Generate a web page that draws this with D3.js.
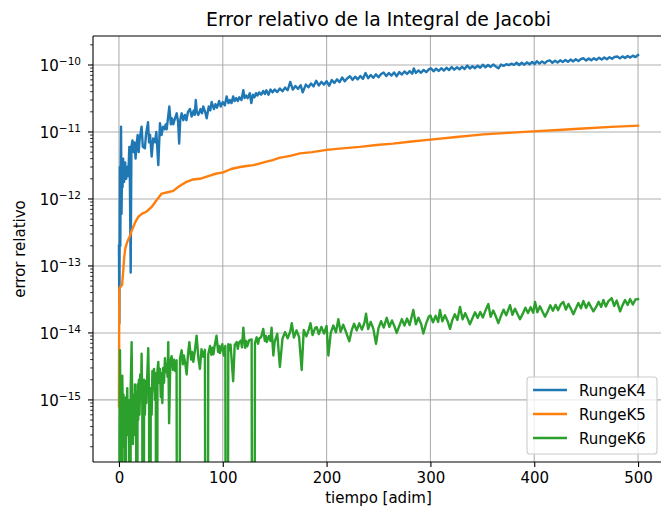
<!DOCTYPE html>
<html>
<head>
<meta charset="utf-8">
<script src="https://cdn.jsdelivr.net/npm/d3@7"></script>
<style>
body { margin: 0; background: #fff; }
text { font-family: "DejaVu Sans", sans-serif; fill: #000; }
</style>
</head>
<body>
<div id="chart"></div>
<script>
// [tiempo, error relativo]; 0 means the error dropped to zero
var rungeK4 = [
    [0, 2e-13], [0.4, 1.4e-14], [0.9, 3e-12], [1.3, 2e-13], [1.7, 4e-12], [2, 1.2e-11], [2.5, 6e-13], [3, 3e-12],
    [3.5, 1.5e-12], [4, 4e-12], [5, 1.8e-12], [6, 3.5e-12], [7, 2e-12], [8, 3e-12], [9, 2.2e-12],
    [10, 6e-12], [10.5, 2e-12], [11.3, 8e-14], [12, 6e-12], [13, 7.5e-12], [14, 5e-12], [15, 7e-12],
    [16, 4e-12], [17, 6.5e-12], [18, 9e-12], [19, 5e-12], [20, 8e-12], [21.8, 1.2e-11], [23, 6e-12],
    [25, 5.7e-12], [26, 9e-12], [28, 1.4e-11], [29, 7e-12], [30, 9e-12], [31.5, 4.3e-12], [33, 8e-12],
    [34.7, 7e-12], [36, 1.0e-11], [37.9, 3.2e-12], [39.5, 1.35e-11], [41, 9e-12], [42.5, 1.2e-11],
    [44, 1.1e-11], [45, 1.3e-11], [46, 1.1e-11], [47, 1.5e-11], [48.5, 2.4e-11], [50, 1.3e-11],
    [51, 1.6e-11], [52.3, 1.3e-11], [54, 1.6e-11], [55.6, 1.9e-11], [57, 1.4e-11], [58, 6.7e-12],
    [59, 1.5e-11], [60.4, 1.9e-11], [62, 1.5e-11], [63.5, 1.8e-11], [65, 1.5e-11], [66.5, 2.0e-11],
    [68.4, 2.2e-11], [70, 1.7e-11], [72, 2.1e-11], [73, 1.8e-11], [74, 3e-11], [75, 2.0e-11],
    [76.4, 1.8e-11], [78.5, 2.2e-11], [80, 1.9e-11], [81.2, 2.4e-11], [83, 2.0e-11], [84.5, 1.6e-11],
    [86.5, 2.4e-11], [88, 2.1e-11], [89.3, 2.8e-11], [91.5, 2.2e-11], [93, 2.6e-11], [94.5, 2.3e-11],
    [96.5, 2.9e-11], [98, 2.4e-11], [100, 2.8e-11], [102, 2.5e-11], [103.7, 3.4e-11], [105.5, 2.7e-11],
    [107, 3.0e-11], [108.5, 2.7e-11], [110, 3.4e-11], [111.5, 2.9e-11], [113, 3.2e-11], [114.5, 2.9e-11],
    [116, 3.3e-11], [118, 3.0e-11], [119.8, 4.2e-11], [121, 3.2e-11], [122.5, 3.5e-11], [124, 3.2e-11],
    [126, 3.8e-11], [127.5, 2.7e-11], [129, 3.6e-11], [130.5, 3.3e-11], [132, 3.8e-11], [133.5, 3.5e-11],
    [135, 3.9e-11], [137, 3.6e-11], [139, 4.1e-11], [140.5, 3.7e-11], [142, 4.2e-11], [144, 3.6e-11],
    [146, 4.3e-11], [148, 3.9e-11],
    [150, 4.3e-11], [152.5, 3.95e-11], [155, 4.45e-11], [157.5, 4.05e-11], [160, 4.6e-11], [162.5, 4.2e-11],
    [165, 5.6e-11], [167.5, 4.3e-11], [170, 4.85e-11], [172.5, 4.4e-11], [175, 5.0e-11], [177, 3.9e-11],
    [180, 5.1e-11], [182.5, 4.65e-11], [185, 5.3e-11], [187.5, 4.8e-11], [190, 5.8e-11], [192.5, 4.95e-11],
    [195, 5.6e-11], [197.5, 5.1e-11], [200, 5.75e-11], [202.5, 4.9e-11], [205, 5.95e-11], [207.5, 5.4e-11],
    [210, 6.1e-11], [212.5, 5.55e-11], [215, 6.5e-11], [217.5, 5.7e-11], [220, 6.35e-11], [222.5, 6.8e-11],
    [225, 6.0e-11], [227.5, 6.7e-11], [230, 6.1e-11], [232.5, 6.85e-11], [235, 6.2e-11], [237.5, 7.6e-11],
    [240, 6.35e-11], [242.5, 7.1e-11], [245, 6.45e-11], [247.5, 7.25e-11], [250, 6.55e-11], [252.5, 7.35e-11],
    [255, 7.7e-11], [257.5, 6.85e-11], [260, 7.6e-11], [262.5, 6.95e-11], [265, 7.75e-11], [267.5, 6.8e-11],
    [270, 7.85e-11], [272.5, 7.2e-11], [275, 8.0e-11], [277.5, 7.35e-11], [280, 8.1e-11], [282.5, 7.4e-11],
    [284, 8.9e-11], [286, 7.6e-11], [288.5, 8.3e-11], [291, 7.65e-11], [293.5, 8.45e-11], [296, 7.8e-11],
    [298.5, 8.6e-11], [300.5, 8.9e-11], [303, 8.05e-11], [305.5, 8.8e-11], [308, 8.15e-11], [310.5, 8.95e-11],
    [313, 8.25e-11], [315.5, 9.1e-11], [318, 8.4e-11], [320.5, 9.3e-11], [323, 8.5e-11], [325.5, 9.25e-11],
    [328, 8.6e-11], [330.5, 9.4e-11], [333, 8.7e-11], [335.5, 9.8e-11], [338, 8.85e-11], [340.5, 9.6e-11],
    [343, 8.95e-11], [345.5, 9.75e-11], [348, 9.1e-11], [350.5, 1.01e-10], [353, 9.25e-11], [355.5, 1.0e-10],
    [358, 9.35e-11], [360.5, 1.015e-10], [363, 9.5e-11], [365.5, 8.9e-11], [368, 1.015e-10], [370.5, 9.7e-11],
    [373, 1.03e-10], [375.5, 9.95e-11], [378, 1.045e-10], [380.5, 1.005e-10], [383, 1.08e-10], [385.5, 1.0e-10],
    [388, 1.08e-10], [390.5, 1.01e-10], [393, 1.095e-10], [395.5, 1.025e-10], [398, 1.11e-10], [400.5, 1.035e-10],
    [402.5, 1.14e-10], [405, 1.05e-10], [407.5, 1.13e-10], [410, 1.06e-10], [412.5, 1.145e-10], [415, 1.17e-10],
    [417.5, 1.08e-10], [420, 1.16e-10], [422.5, 1.09e-10], [425, 1.175e-10], [427.5, 1.105e-10], [430, 1.19e-10],
    [432.5, 1.115e-10], [435, 1.205e-10], [437.5, 1.13e-10], [440, 1.22e-10], [442.5, 1.145e-10], [445, 1.23e-10],
    [447.5, 1.26e-10], [450, 1.165e-10], [452.5, 1.25e-10], [455, 1.175e-10], [457.5, 1.265e-10], [460, 1.19e-10],
    [462.5, 1.285e-10], [465, 1.205e-10], [467.5, 1.295e-10], [470, 1.22e-10], [472.5, 1.31e-10], [475, 1.235e-10],
    [477.5, 1.325e-10], [480, 1.34e-10], [482.5, 1.255e-10], [485, 1.345e-10], [487.5, 1.27e-10], [490, 1.36e-10],
    [492.5, 1.29e-10], [495, 1.38e-10], [497.5, 1.31e-10], [500, 1.41e-10]
];

var rungeK5 = [
    [0, 8e-16], [0.3, 4.5e-14], [1, 4.8e-14], [2, 5e-14], [3, 5.2e-14], [4, 8e-14], [5, 1.3e-13],
    [6, 1.8e-13], [8, 2.3e-13], [10.6, 2.8e-13], [12, 3.3e-13], [13.8, 3.8e-13], [16, 4.6e-13],
    [18.6, 5.4e-13], [22, 6e-13], [26.7, 6.5e-13], [31.5, 7.6e-13], [36, 9.5e-13], [41, 1.2e-12],
    [46, 1.25e-12], [52.3, 1.32e-12], [58, 1.55e-12], [65, 1.8e-12], [71, 1.95e-12], [78, 2.0e-12],
    [86, 2.2e-12], [94, 2.4e-12], [100.5, 2.5e-12], [108, 2.8e-12], [116.6, 3.0e-12], [123, 3.1e-12],
    [129.4, 3.2e-12], [136, 3.4e-12], [142, 3.6e-12], [148, 3.8e-12], [154.4, 4.1e-12], [165, 4.4e-12],
    [174.4, 4.8e-12], [186, 5.0e-12], [200, 5.4e-12], [215, 5.7e-12], [232, 6.0e-12], [248, 6.4e-12],
    [264, 6.7e-12], [282, 7.2e-12], [300, 7.7e-12], [325, 8.4e-12], [351, 9.2e-12], [375, 9.7e-12],
    [399, 1.02e-11], [423, 1.07e-11], [447, 1.13e-11], [474, 1.19e-11], [500, 1.24e-11]
];

var rungeK6 = [
    [0, 0], [0.5, 2.2e-16], [1, 5.5e-15], [1.5, 3e-16], [2, 1.5e-15], [2.6, 0], [3.2, 2.3e-15], [3.8, 6e-16],
    [4.4, 1.2e-15], [5, 2e-16], [5.6, 9e-16], [6.2, 0], [6.8, 1.1e-15], [7.4, 4e-16], [8, 1.5e-15],
    [8.6, 3e-16], [9.2, 1e-15], [9.8, 2e-16], [10.6, 0], [11.3, 1.5e-15], [12.2, 7.3e-15], [12.8, 8e-16],
    [13.5, 2.2e-16], [14.2, 1.2e-15], [14.8, 3e-16], [15.4, 1.7e-15], [16, 4e-16], [16.6, 1.3e-15],
    [17.2, 0], [17.9, 1.7e-15], [18.5, 5e-16], [19.2, 2e-15], [19.8, 6e-16], [20.5, 2.4e-15], [21.2, 1e-15],
    [21.8, 4.9e-15], [22.5, 8e-16], [23.4, 0], [24.2, 2e-15], [25, 6e-16], [25.7, 1.9e-15], [26.4, 9e-16],
    [27.2, 2.2e-15], [28.2, 5.9e-15], [29, 1.2e-15], [29.8, 0], [30.6, 1.5e-15], [31.5, 6e-16],
    [32.2, 2.7e-15], [33, 1.4e-15], [33.8, 2.9e-15], [34.7, 1.0e-15], [35.5, 2.5e-15], [36.3, 0],
    [37.1, 2.8e-15], [37.9, 3.7e-15], [38.7, 1.8e-15], [39.5, 2.9e-15], [40.3, 1.1e-15], [41, 2.5e-15],
    [41.8, 9e-16], [42.5, 3.0e-15], [43.4, 1.8e-15], [44.3, 4.2e-15], [45.2, 2.6e-15], [46, 3.4e-15],
    [46.8, 2.2e-15], [47.5, 7.3e-15], [48.3, 4.5e-16], [49.5, 3.8e-15], [50.7, 4.5e-15], [52, 2.8e-15],
    [53, 4.0e-15], [54.2, 2.7e-15], [55.5, 3.9e-15], [57.1, 0], [58.8, 4.2e-15], [60.4, 5.5e-15],
    [61.5, 3.4e-15], [62.5, 4.6e-15], [64, 3.4e-15], [65.2, 2.4e-15], [66.5, 4.8e-15], [67.8, 7.3e-15],
    [69.5, 4.0e-15], [70.5, 5.2e-15], [71.6, 3.7e-15], [73, 5.2e-15], [74.8, 9.1e-15], [76.5, 4.2e-15],
    [78, 2.9e-15], [79.5, 5.7e-15], [81.2, 4.4e-15], [82.8, 5.6e-15], [84.5, 0], [86, 4.8e-15],
    [87.7, 6.4e-15], [89, 4.7e-15], [90, 6.0e-15], [91, 4.8e-15], [92, 6.2e-15], [94, 9.1e-15],
    [95.5, 5.2e-15], [96.5, 6.4e-15], [97.3, 5.0e-15], [99.5, 6.8e-15], [101, 4.6e-15], [102.5, 6.4e-15],
    [103.7, 0], [105.3, 6.8e-15], [106.5, 5.5e-15], [107.5, 6.7e-15], [110, 1.9e-15], [111.5, 6.6e-15],
    [113.4, 7.3e-15], [114.5, 5.8e-15], [115.5, 7.1e-15], [117.5, 7.7e-15], [118.5, 6.1e-15],
    [119.8, 1.2e-14], [121.5, 6.0e-15], [122.5, 7.6e-15], [123.5, 6.3e-15], [125.5, 7.8e-15],
    [127.8, 8.0e-15], [129.4, 0], [131, 7.0e-15], [132.6, 8.6e-15], [134, 6.9e-15], [135, 8.2e-15],
    [137, 8.7e-15], [139, 1.15e-14], [140.5, 7.6e-15], [141.5, 9.0e-15], [142.3, 7.3e-15], [144.5, 9.0e-15],
    [146, 7.6e-15], [147, 1.2e-14], [148.7, 4.6e-15],
    [150, 7.4e-15], [152.5, 9.7e-15], [155, 3.1e-15], [157.5, 8.2e-15], [160, 1.03e-14], [162.5, 8.3e-15],
    [165, 1.05e-14], [166.5, 1.4e-14], [168.5, 8.5e-15], [171, 1.09e-14], [173.5, 8.7e-15], [176, 2.8e-15],
    [178, 1.11e-14], [180.5, 8.9e-15], [183, 1.14e-14], [184.5, 1.4e-14], [186.5, 9.3e-15], [189, 1.19e-14],
    [190.5, 1.22e-14], [192.5, 9.6e-15], [195, 1.23e-14], [197.5, 9.8e-15], [200, 1.27e-14], [201.7, 4.6e-15],
    [204, 1.0e-14], [206.5, 1.29e-14], [209, 1.02e-14], [211.3, 1.6e-14], [213.5, 1.04e-14], [216, 1.33e-14],
    [218.5, 1.05e-14], [221.9, 7.5e-15], [224, 1.07e-14], [226.5, 1.37e-14], [229, 1.09e-14], [231.5, 1.39e-14],
    [234, 1.12e-14], [236.5, 1.42e-14], [238, 1.94e-14], [240, 1.14e-14], [242.5, 1.46e-14], [245, 1.16e-14],
    [247.6, 6.9e-15], [250, 1.18e-14], [252.5, 1.5e-14], [255, 1.2e-14], [257.9, 1.68e-14], [260.5, 1.23e-14],
    [263, 1.54e-14], [265.5, 1.24e-14], [267.5, 1.0e-14], [270, 1.27e-14], [272.5, 1.61e-14], [275, 1.29e-14],
    [277.5, 1.64e-14], [280, 1.31e-14], [283.5, 2.2e-14], [286, 1.35e-14], [288.5, 1.69e-14], [291, 1.37e-14],
    [293.2, 9.8e-15], [296, 1.4e-14], [298.5, 1.76e-14], [300, 1.82e-14], [302.5, 1.44e-14], [305, 1.8e-14],
    [307.5, 1.46e-14], [309.2, 2.2e-14], [311.5, 1.49e-14], [314, 1.84e-14], [316.5, 1.51e-14], [318.9, 1.15e-14],
    [321, 1.54e-14], [323.5, 1.9e-14], [326, 1.56e-14], [328.5, 2.45e-14], [331, 1.6e-14], [333.5, 1.97e-14],
    [336, 1.62e-14], [338, 1.35e-14], [340.5, 1.65e-14], [343, 2.03e-14], [345.5, 1.67e-14], [348, 2.06e-14],
    [350.5, 1.7e-14], [353, 2.15e-14], [355.8, 2.7e-14], [358, 1.74e-14], [360.5, 2.16e-14], [363, 1.77e-14],
    [365.4, 1.4e-14], [368, 1.8e-14], [370.5, 2.22e-14], [373, 1.83e-14], [376.7, 2.6e-14], [379, 1.87e-14],
    [381.5, 2.29e-14], [384, 1.9e-14], [386.3, 1.6e-14], [389, 1.94e-14], [391.5, 2.38e-14], [394, 1.98e-14],
    [396.5, 2.42e-14], [399, 2.01e-14], [400.8, 2.9e-14], [403, 2.04e-14], [405.5, 2.5e-14], [408, 2.07e-14],
    [410.4, 1.75e-14], [413, 2.11e-14], [415.5, 2.58e-14], [418, 2.15e-14], [420.5, 2.62e-14], [423, 2.19e-14],
    [425.5, 2.66e-14], [428, 2.9e-14], [430.5, 2.23e-14], [433, 2.71e-14], [435.5, 2.26e-14], [437.7, 1.9e-14],
    [440, 2.3e-14], [442.5, 2.79e-14], [445, 2.33e-14], [447.3, 3.0e-14], [450, 2.36e-14], [452.5, 2.85e-14],
    [455, 2.38e-14], [457, 2.1e-14], [459.5, 2.42e-14], [462, 2.91e-14], [464.5, 2.45e-14], [466.6, 3.1e-14],
    [469, 2.48e-14], [471.5, 2.99e-14], [474.6, 3.3e-14], [477, 2.53e-14], [479.5, 3.04e-14], [482.7, 2.1e-14],
    [485, 2.58e-14], [487.5, 3.1e-14], [490, 2.61e-14], [492.3, 3.2e-14], [495, 2.65e-14], [497.5, 3.16e-14],
    [500, 3.2e-14]
];

var seriesNames = ["RungeK4", "RungeK5", "RungeK6"];
var seriesColors = ["#1f77b4", "#ff7f0e", "#2ca02c"];
var xTicks = [0, 100, 200, 300, 400, 500];
var yExponents = [-15, -14, -13, -12, -11, -10];

function chart() {
    var w = 661;
    var h = 515;
    var left = 93, right = 664, top = 36, bottom = 462; // axes box runs a bit past the right edge
    var fs = 15;

    var x = d3.scaleLinear().domain([-25, 525]).range([left, right]);
    var y = d3.scaleLog().domain([Math.pow(10, -15.927), Math.pow(10, -9.567)]).range([bottom, top]);

    var svg = d3.select("#chart")
                .append("svg")
                .attr("width", w)
                .attr("height", h);

    svg.append("defs").append("clipPath")
        .attr("id", "clip")
        .append("rect")
        .attr("x", left).attr("y", top)
        .attr("width", right - left).attr("height", bottom - top);

    // grid
    var grid = svg.append("g").attr("stroke", "#b0b0b0").attr("stroke-width", 1.1);
    grid.selectAll(".gx").data(xTicks).enter().append("line")
        .attr("x1", d => x(d)).attr("x2", d => x(d))
        .attr("y1", top).attr("y2", bottom);
    grid.selectAll(".gy").data(yExponents).enter().append("line")
        .attr("x1", left).attr("x2", right)
        .attr("y1", d => y(Math.pow(10, d))).attr("y2", d => y(Math.pow(10, d)));

    // lines
    var line = d3.line()
        .x(d => x(d[0]))
        .y(d => y(d[1] > 0 ? d[1] : 1e-30)); // zero error falls off the bottom like matplotlib clip

    var plot = svg.append("g").attr("clip-path", "url(#clip)");
    [rungeK4, rungeK5, rungeK6].forEach(function(s, i) {
        plot.append("path")
            .datum(s)
            .attr("d", line)
            .attr("fill", "none")
            .attr("stroke", seriesColors[i])
            .attr("stroke-width", 2.4)
            .attr("stroke-linejoin", "round")
            .attr("stroke-linecap", "square");
    });

    // x axis
    var xAxis = d3.axisBottom(x).tickValues(xTicks).tickSize(5).tickPadding(5);
    var gx = svg.append("g").attr("transform", `translate(0,${bottom})`).call(xAxis);
    gx.select(".domain").remove();
    gx.selectAll("line").attr("stroke", "#000").attr("stroke-width", 1.1);
    gx.selectAll("text")
        .style("font-family", "DejaVu Sans")
        .style("font-size", fs + "px")
        .attr("fill", "#000");

    // y axis, major and minor ticks
    var minor = [];
    for (var e = -16; e <= -10; e++) {
        for (var m = 2; m <= 9; m++) {
            var v = m * Math.pow(10, e);
            if (v >= y.domain()[0] && v <= y.domain()[1]) minor.push(v);
        }
    }
    var gy = svg.append("g");
    gy.selectAll(".minor").data(minor).enter().append("line")
        .attr("x1", left - 2.9).attr("x2", left)
        .attr("y1", d => y(d)).attr("y2", d => y(d))
        .attr("stroke", "#000").attr("stroke-width", 0.8);
    gy.selectAll(".major").data(yExponents).enter().append("line")
        .attr("x1", left - 5).attr("x2", left)
        .attr("y1", d => y(Math.pow(10, d))).attr("y2", d => y(Math.pow(10, d)))
        .attr("stroke", "#000").attr("stroke-width", 1.1);
    var lab = gy.selectAll(".lab").data(yExponents).enter().append("text")
        .attr("x", left - 12)
        .attr("y", d => y(Math.pow(10, d)) + 5.7)
        .attr("text-anchor", "end")
        .style("font-size", fs + "px");
    lab.append("tspan").text("10");
    lab.append("tspan")
        .attr("dy", -6)
        .style("font-size", (fs * 0.7) + "px")
        .text(d => "\u2212" + Math.abs(d));

    // spines
    var sp = svg.append("g").attr("stroke", "#000").attr("stroke-width", 1.1);
    sp.append("line").attr("x1", left).attr("x2", left).attr("y1", top).attr("y2", bottom);
    sp.append("line").attr("x1", left).attr("x2", right).attr("y1", bottom).attr("y2", bottom);
    sp.append("line").attr("x1", left).attr("x2", right).attr("y1", top).attr("y2", top);
    sp.append("line").attr("x1", right).attr("x2", right).attr("y1", top).attr("y2", bottom);

    // titles
    svg.append("text")
        .attr("x", (left + right) / 2).attr("y", 26)
        .attr("text-anchor", "middle")
        .style("font-size", "18.8px")
        .text("Error relativo de la Integral de Jacobi");
    svg.append("text")
        .attr("x", (left + right) / 2).attr("y", 503)
        .attr("text-anchor", "middle")
        .style("font-size", fs + "px")
        .text("tiempo [adim]");
    svg.append("text")
        .attr("transform", `translate(25,${(top + bottom) / 2}) rotate(-90)`)
        .attr("text-anchor", "middle")
        .style("font-size", fs + "px")
        .text("error relativo");

    // legend
    var lg = svg.append("g");
    lg.append("rect")
        .attr("x", 527).attr("y", 377)
        .attr("width", 130).attr("height", 77)
        .attr("rx", 3)
        .attr("fill", "#fff").attr("fill-opacity", 0.8)
        .attr("stroke", "#cccccc").attr("stroke-width", 1.1);
    seriesNames.forEach(function(name, i) {
        var yy = 390 + i * 24;
        lg.append("line")
            .attr("x1", 533).attr("x2", 567)
            .attr("y1", yy).attr("y2", yy)
            .attr("stroke", seriesColors[i]).attr("stroke-width", 2.4);
        lg.append("text")
            .attr("x", 579).attr("y", yy + 5.5)
            .style("font-size", fs + "px")
            .text(name);
    });
}

window.onload = chart;
</script>
</body>
</html>
